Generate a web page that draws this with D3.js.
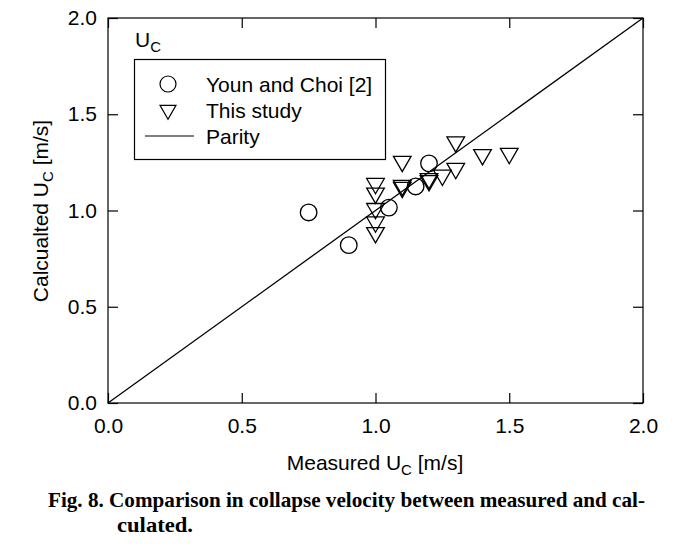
<!DOCTYPE html>
<html><head><meta charset="utf-8">
<script src="https://cdn.jsdelivr.net/npm/d3@7"></script>
<style>body{margin:0;background:#fff}svg{display:block}</style>
</head><body>
<svg id="c" width="694" height="549"></svg>
<script>
const xTicks = [0, 0.5, 1.0, 1.5, 2.0];
const yTicks = [0, 0.5, 1.0, 1.5, 2.0];
const younX = [0.75, 0.90, 1.05, 1.15, 1.20];
const younY = [0.99, 0.82, 1.015, 1.125, 1.245];
const studyX = [1.0, 1.0, 1.0, 1.0, 1.0, 1.1, 1.1, 1.1, 1.2, 1.2, 1.25, 1.3, 1.3, 1.4, 1.5];
const studyY = [1.14, 1.09, 1.01, 0.94, 0.885, 1.255, 1.13, 1.12, 1.165, 1.155, 1.183, 1.218, 1.356, 1.29, 1.296];
const parity = [0, 2];
const legendLabels = ["Youn and Choi [2]", "This study", "Parity"];

const svg = d3.select("#c");
const L = 108, R = 643, T = 18, B = 403;
const x = d3.scaleLinear().domain([0, 2]).range([L, R]);
const y = d3.scaleLinear().domain([0, 2]).range([B, T]);
const font = "'Liberation Sans', Arial, sans-serif";
const FS = 21, SUB = 15;

// frame
svg.append("rect").attr("x", L).attr("y", T).attr("width", R - L).attr("height", B - T)
  .attr("fill", "none").attr("stroke", "#000").attr("stroke-width", 1.2);

// axes with inward ticks
const fmt = d3.format(".1f");
const gx = svg.append("g").attr("transform", `translate(0,${B})`)
  .call(d3.axisBottom(x).tickValues(xTicks).tickFormat(fmt).tickSizeInner(-10).tickSizeOuter(0).tickPadding(15));
const gxt = svg.append("g").attr("transform", `translate(0,${T})`)
  .call(d3.axisTop(x).tickValues(xTicks).tickFormat("").tickSizeInner(-10).tickSizeOuter(0));
const gy = svg.append("g").attr("transform", `translate(${L},0)`)
  .call(d3.axisLeft(y).tickValues(yTicks).tickFormat(fmt).tickSizeInner(-10).tickSizeOuter(0).tickPadding(11));
const gyr = svg.append("g").attr("transform", `translate(${R},0)`)
  .call(d3.axisRight(y).tickValues(yTicks).tickFormat("").tickSizeInner(-10).tickSizeOuter(0));
[gx, gxt, gy, gyr].forEach(g => {
  g.select(".domain").remove();
  g.selectAll("line").attr("stroke", "#000").attr("stroke-width", 1.2);
  g.selectAll("text").attr("font-family", font).attr("font-size", FS).attr("fill", "#000");
});

// parity line
svg.append("line").attr("x1", x(parity[0])).attr("y1", y(parity[0]))
  .attr("x2", x(parity[1])).attr("y2", y(parity[1]))
  .attr("stroke", "#000").attr("stroke-width", 1.3);

// triangles
const tri = d3.symbol().type(d3.symbolTriangle).size(135);
svg.append("g").selectAll("path").data(studyX.map((v, i) => [v, studyY[i]])).join("path")
  .attr("d", tri)
  .attr("transform", d => `translate(${x(d[0])},${y(d[1])}) rotate(180)`)
  .attr("fill", "none").attr("stroke", "#000").attr("stroke-width", 1.3);

// circles
svg.append("g").selectAll("circle").data(younX.map((v, i) => [v, younY[i]])).join("circle")
  .attr("cx", d => x(d[0])).attr("cy", d => y(d[1])).attr("r", 8.3)
  .attr("fill", "none").attr("stroke", "#000").attr("stroke-width", 1.3);

// U_C title
const uc = svg.append("text").attr("x", 135).attr("y", 47).attr("font-family", font).attr("font-size", FS);
uc.append("tspan").text("U");
uc.append("tspan").attr("font-size", SUB).attr("dy", 5).text("C");

// legend
svg.append("rect").attr("x", 134.5).attr("y", 59.5).attr("width", 251).attr("height", 100)
  .attr("fill", "#fff").attr("stroke", "#000").attr("stroke-width", 1.2);
svg.append("circle").attr("cx", 168).attr("cy", 84).attr("r", 8)
  .attr("fill", "none").attr("stroke", "#000").attr("stroke-width", 1.2);
svg.append("path").attr("d", d3.symbol().type(d3.symbolTriangle).size(110))
  .attr("transform", "translate(168,110) rotate(180)")
  .attr("fill", "none").attr("stroke", "#000").attr("stroke-width", 1.2);
svg.append("line").attr("x1", 145).attr("x2", 194).attr("y1", 136).attr("y2", 136)
  .attr("stroke", "#000").attr("stroke-width", 1.2);
svg.append("g").selectAll("text").data(legendLabels).join("text")
  .attr("x", 206).attr("y", (d, i) => 92 + i * 26)
  .attr("font-family", font).attr("font-size", FS).text(d => d);

// axis titles
const xl = svg.append("text").attr("x", 375).attr("y", 470).attr("text-anchor", "middle")
  .attr("font-family", font).attr("font-size", FS);
xl.append("tspan").text("Measured U");
xl.append("tspan").attr("font-size", SUB).attr("dy", 5).text("C");
xl.append("tspan").attr("dy", -5).text(" [m/s]");

const yl = svg.append("text").attr("transform", "translate(48,211) rotate(-90)").attr("text-anchor", "middle")
  .attr("font-family", font).attr("font-size", FS);
yl.append("tspan").text("Calcualted U");
yl.append("tspan").attr("font-size", SUB).attr("dy", 5).text("C");
yl.append("tspan").attr("dy", -5).text(" [m/s]");

// caption
const cf = "'Liberation Serif', 'Times New Roman', serif";
svg.append("text").attr("x", 48).attr("y", 507).attr("font-family", cf).attr("font-weight", "bold")
  .attr("font-size", 22).attr("textLength", 597).attr("lengthAdjust", "spacingAndGlyphs")
  .text("Fig. 8. Comparison in collapse velocity between measured and cal-");
svg.append("text").attr("x", 117).attr("y", 532).attr("font-family", cf).attr("font-weight", "bold")
  .attr("font-size", 22).attr("textLength", 76).attr("lengthAdjust", "spacingAndGlyphs").text("culated.");
</script>
</body></html>
